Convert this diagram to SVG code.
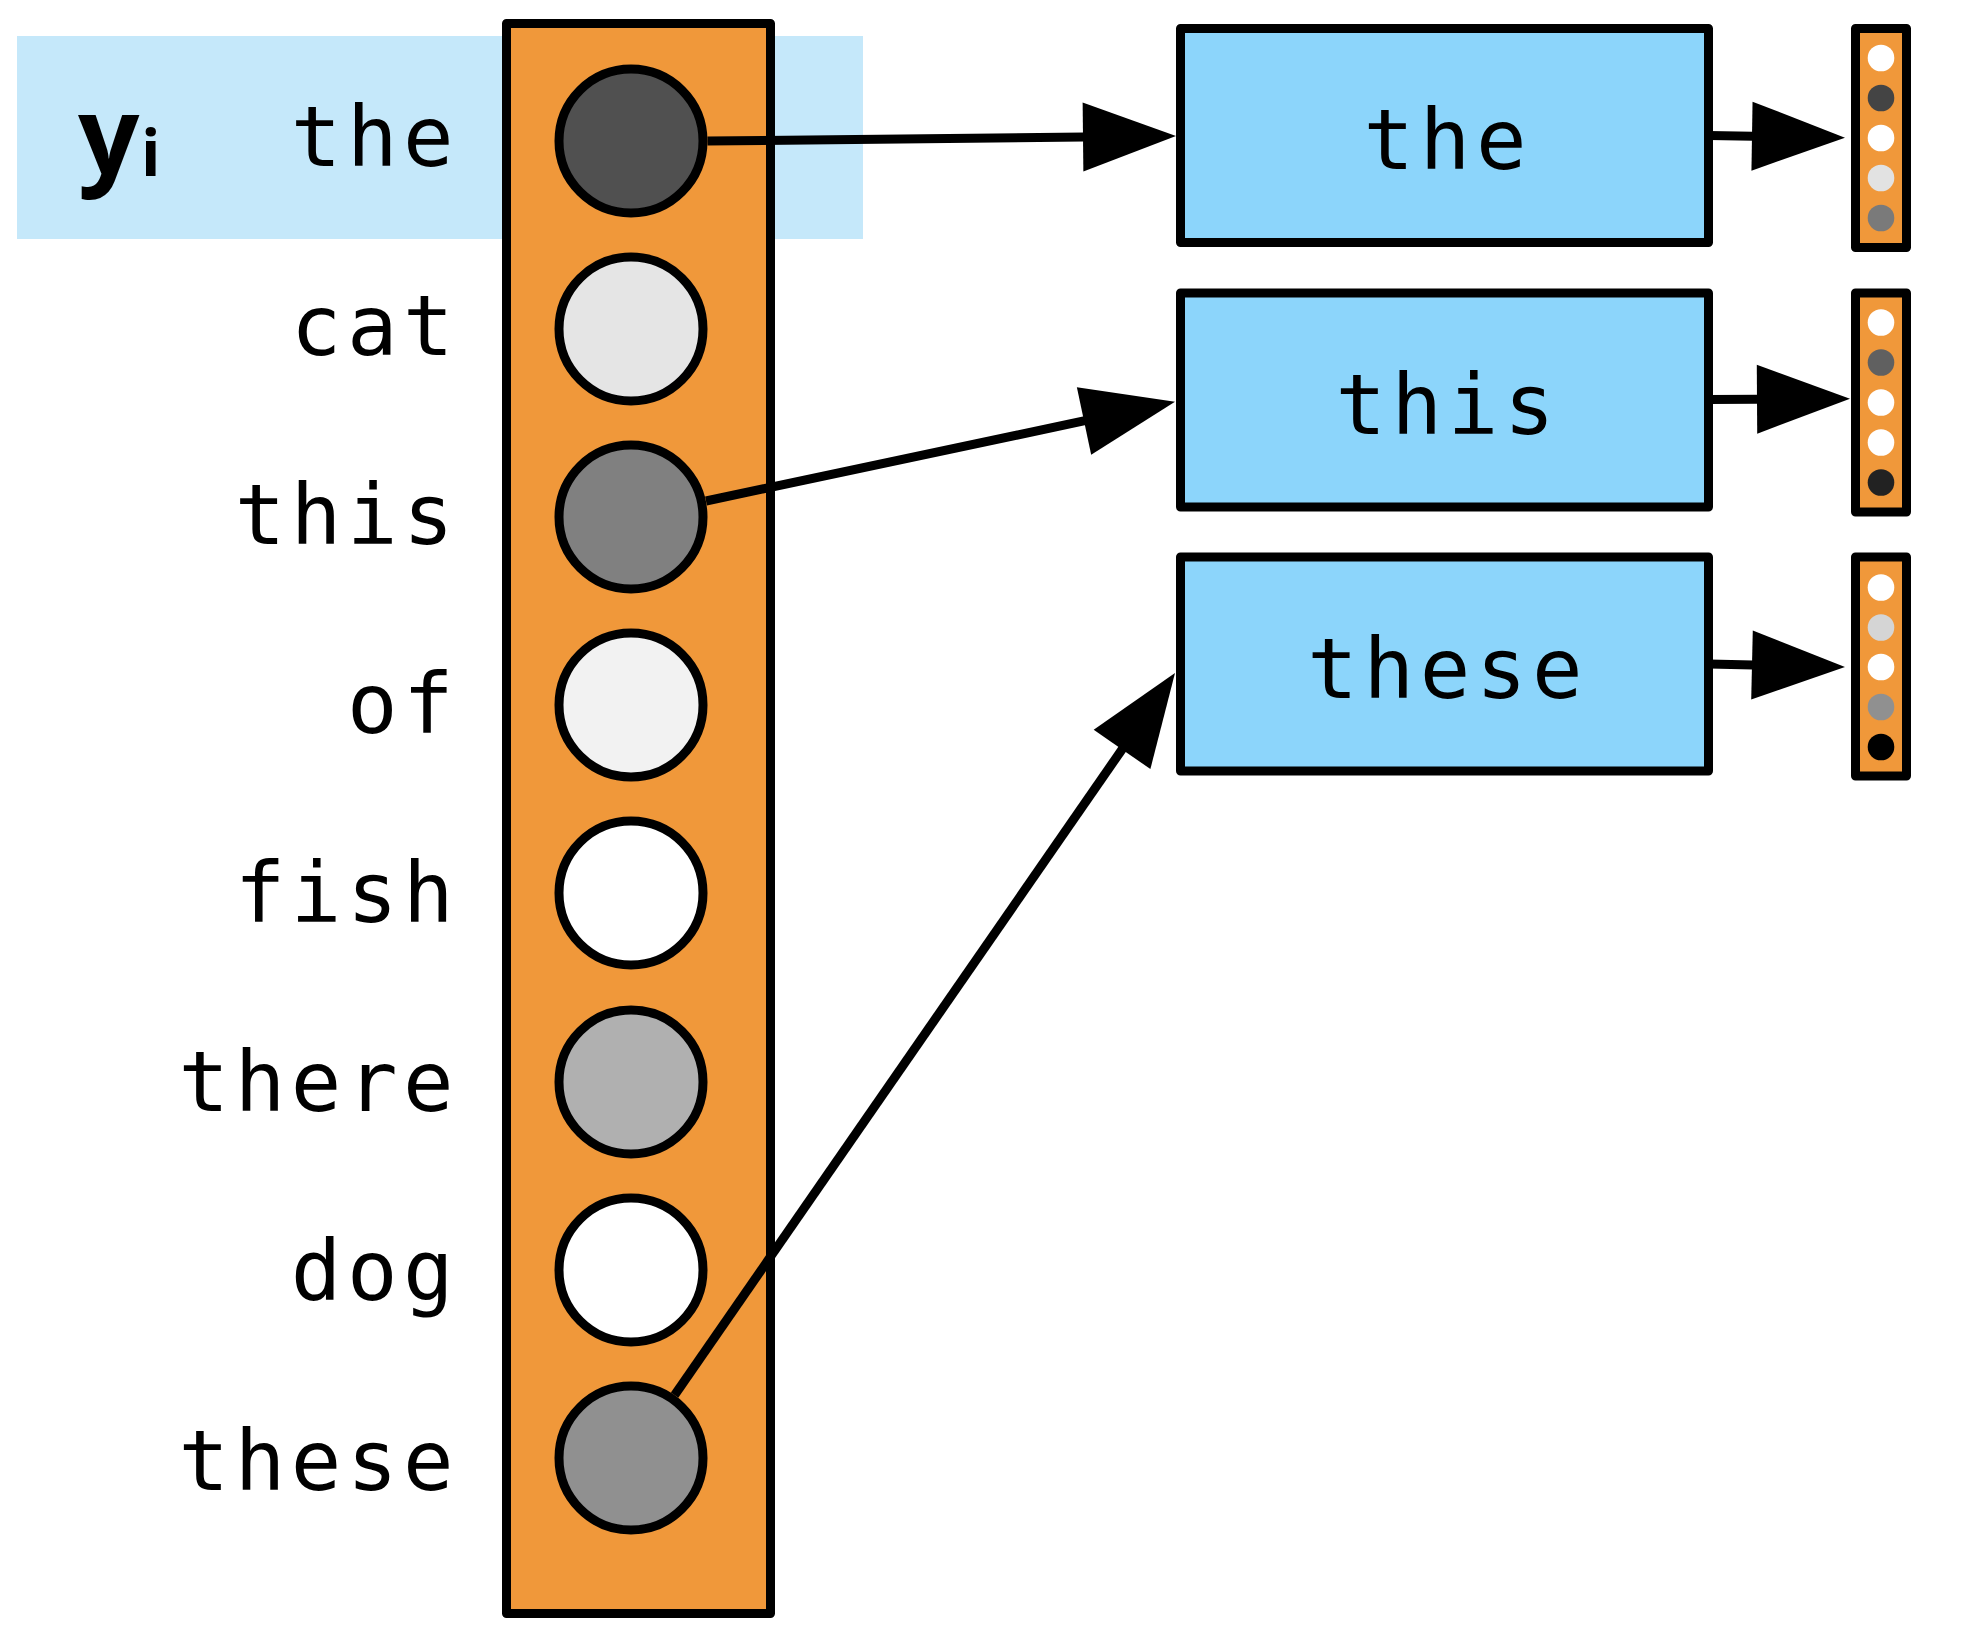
<svg xmlns="http://www.w3.org/2000/svg" width="1972" height="1642" viewBox="0 0 1972 1642">
<style>
.lbl{font-family:"DejaVu Sans Mono","Liberation Mono",monospace;font-size:84px;fill:#000;text-anchor:middle}
.blk{stroke:#000;stroke-width:9;stroke-linejoin:round}
.col{fill:#f0983a}
.word{fill:#8cd5fb}
.dot{stroke:none}
.ln{stroke:#000;stroke-width:9;fill:none}
</style>
<defs>
<marker id="ah" markerUnits="userSpaceOnUse" markerWidth="100" markerHeight="80" refX="0" refY="0" orient="auto" overflow="visible">
<path d="M-1,-34.5 L92,0 L-1,34.5 Z" fill="#000"/>
</marker>
</defs>
<rect x="17" y="36" width="846" height="203" fill="#c5e8fa"/>
<g id="yi-label">
<text x="78" y="174" font-family="'Open Sans','DejaVu Sans',sans-serif" font-weight="bold" font-size="108">y</text>
<text x="141" y="176" font-family="'Open Sans','DejaVu Sans',sans-serif" font-weight="bold" font-size="64">i</text>
</g>
<g id="vocab">
<rect class="blk col" x="506.5" y="23.5" width="264" height="1590"/>
<g id="w-the"><text class="lbl" x="316.1 372.2 428.3" y="166">the</text><circle class="blk" cx="631" cy="141" r="72" fill="#505050"/></g>
<g id="w-cat"><text class="lbl" x="316.1 372.2 428.3" y="355">cat</text><circle class="blk" cx="631" cy="329" r="72" fill="#e5e5e5"/></g>
<g id="w-this"><text class="lbl" x="260 316.1 372.2 428.3" y="544">this</text><circle class="blk" cx="631" cy="517" r="72" fill="#808080"/></g>
<g id="w-of"><text class="lbl" x="372.2 428.3" y="733">of</text><circle class="blk" cx="631" cy="705" r="72" fill="#f2f2f2"/></g>
<g id="w-fish"><text class="lbl" x="260 316.1 372.2 428.3" y="922">fish</text><circle class="blk" cx="631" cy="893" r="72" fill="#ffffff"/></g>
<g id="w-there"><text class="lbl" x="203.9 260 316.1 372.2 428.3" y="1111">there</text><circle class="blk" cx="631" cy="1082" r="72" fill="#b0b0b0"/></g>
<g id="w-dog"><text class="lbl" x="316.1 372.2 428.3" y="1300">dog</text><circle class="blk" cx="631" cy="1270" r="72" fill="#ffffff"/></g>
<g id="w-these"><text class="lbl" x="203.9 260 316.1 372.2 428.3" y="1490">these</text><circle class="blk" cx="631" cy="1458" r="72" fill="#909090"/></g>
</g>
<g id="connectors">
<line class="ln" x1="707.5" y1="141" x2="1084" y2="137" marker-end="url(#ah)"/>
<line class="ln" x1="706" y1="501" x2="1085" y2="420.7" marker-end="url(#ah)"/>
<line class="ln" x1="674.6" y1="1395.1" x2="1122.6" y2="748.6" marker-end="url(#ah)"/>
<line class="ln" x1="1709" y1="135.5" x2="1753" y2="136.2" marker-end="url(#ah)"/>
<line class="ln" x1="1709" y1="399.5" x2="1758" y2="399.2" marker-end="url(#ah)"/>
<line class="ln" x1="1709" y1="664" x2="1753" y2="665" marker-end="url(#ah)"/>
</g>
<g id="box-the">
<rect class="blk word" x="1180.5" y="28.5" width="528" height="214"/>
<text class="lbl" x="1388.8 1445 1501.2" y="169">the</text>
</g>
<g id="box-this">
<rect class="blk word" x="1180.5" y="293" width="528" height="214"/>
<text class="lbl" x="1360.7 1416.9 1473.1 1529.3" y="433.5">this</text>
</g>
<g id="box-these">
<rect class="blk word" x="1180.5" y="557" width="528" height="214"/>
<text class="lbl" x="1332.6 1388.8 1445 1501.2 1557.4" y="697.5">these</text>
</g>
<g id="vec-the">
<rect class="blk col" x="1855.5" y="28.5" width="51" height="219"/>
<circle class="dot" cx="1881" cy="58" r="13.3" fill="#ffffff"/>
<circle class="dot" cx="1881" cy="98" r="13.3" fill="#444444"/>
<circle class="dot" cx="1881" cy="138" r="13.3" fill="#ffffff"/>
<circle class="dot" cx="1881" cy="178" r="13.3" fill="#e2e2e2"/>
<circle class="dot" cx="1881" cy="218" r="13.3" fill="#7a7a7a"/>
</g>
<g id="vec-this">
<rect class="blk col" x="1855.5" y="293" width="51" height="219"/>
<circle class="dot" cx="1881" cy="322.5" r="13.3" fill="#ffffff"/>
<circle class="dot" cx="1881" cy="362.5" r="13.3" fill="#606060"/>
<circle class="dot" cx="1881" cy="402.5" r="13.3" fill="#ffffff"/>
<circle class="dot" cx="1881" cy="442.5" r="13.3" fill="#ffffff"/>
<circle class="dot" cx="1881" cy="482.5" r="13.3" fill="#222222"/>
</g>
<g id="vec-these">
<rect class="blk col" x="1855.5" y="557" width="51" height="219"/>
<circle class="dot" cx="1881" cy="587.5" r="13.3" fill="#ffffff"/>
<circle class="dot" cx="1881" cy="627.5" r="13.3" fill="#d5d5d5"/>
<circle class="dot" cx="1881" cy="667" r="13.3" fill="#ffffff"/>
<circle class="dot" cx="1881" cy="707" r="13.3" fill="#909090"/>
<circle class="dot" cx="1881" cy="747" r="13.3" fill="#000000"/>
</g>
</svg>
